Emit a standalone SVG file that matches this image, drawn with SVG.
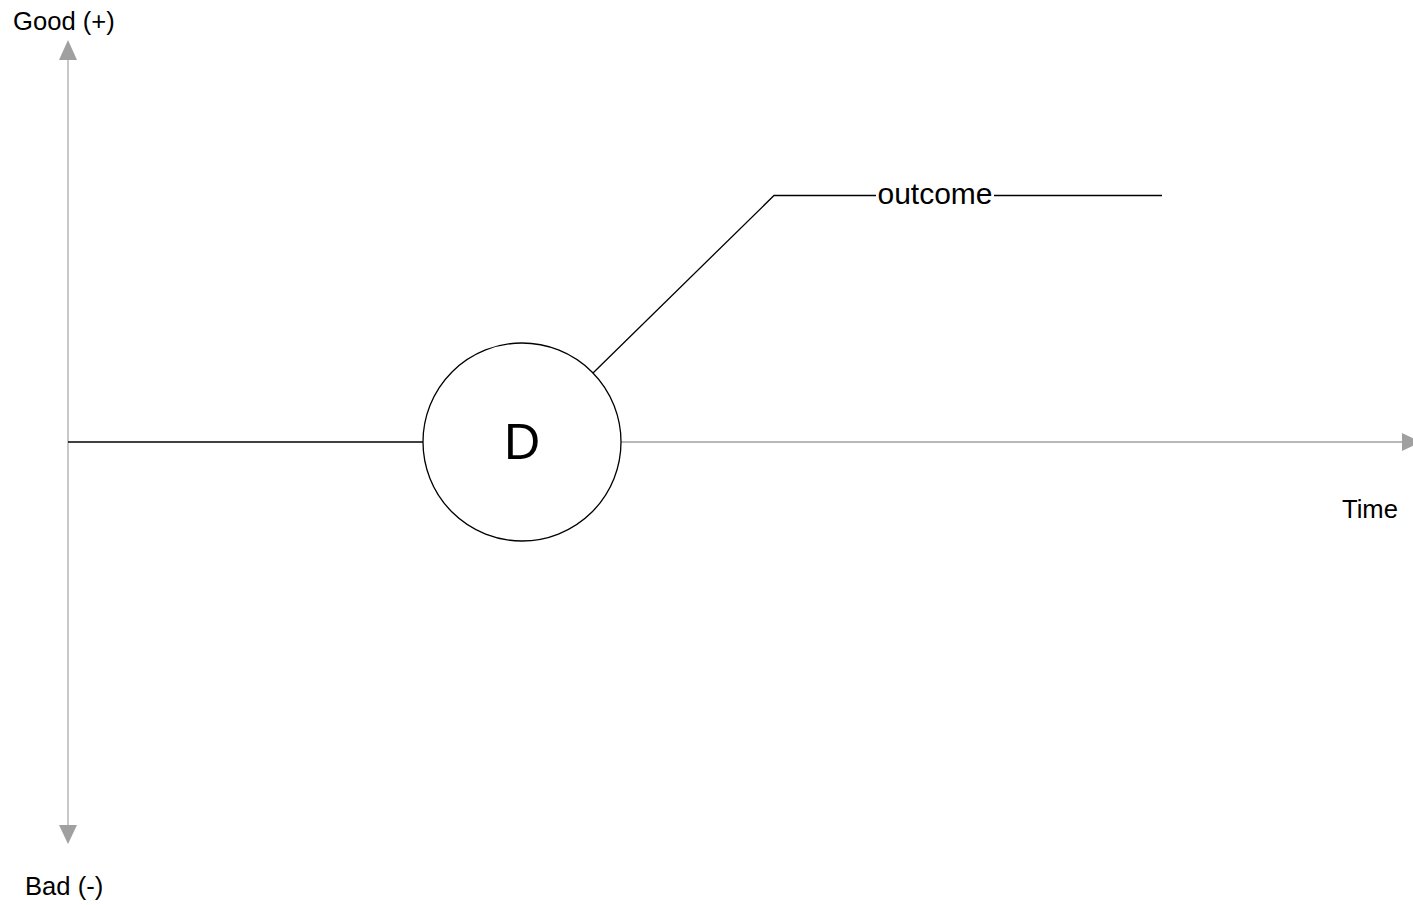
<svg xmlns="http://www.w3.org/2000/svg" width="1413" height="905" viewBox="0 0 1413 905">
  <style>
    .label { font-family: "Liberation Sans", Arial, sans-serif; fill: #000; }
    .axis { stroke: #c8c8c8; stroke-width: 2; fill: none; }
    .axis-h { stroke: #a0a0a0; stroke-width: 1.5; fill: none; }
    .edge { stroke: #000; stroke-width: 1.3; fill: none; }
    .head { fill: #a0a0a0; stroke: none; }
  </style>
  <rect width="1413" height="905" fill="#fff"/>

  <!-- value axis (good / bad) -->
  <g id="value-axis">
    <line class="axis" x1="68" y1="58" x2="68" y2="826"/>
    <polygon class="head" points="68,40 59,60 77,60"/>
    <polygon class="head" points="68,844 59,825 77,825"/>
    <text class="label" x="13" y="30" font-size="25.6">Good (+)</text>
    <text class="label" x="25" y="895" font-size="25.6">Bad (-)</text>
  </g>

  <!-- time axis -->
  <g id="time-axis">
    <line class="axis-h" x1="621" y1="442" x2="1403" y2="442"/>
    <polygon class="head" points="1421,442 1402,433 1402,451"/>
    <text class="label" x="1342" y="518" font-size="25.6">Time</text>
  </g>

  <!-- connectors -->
  <g id="connectors">
    <line class="edge" x1="68" y1="442" x2="423" y2="442"/>
    <polyline class="edge" points="593,373 774,195.5 876,195.5"/>
    <line class="edge" x1="994" y1="195.5" x2="1162" y2="195.5"/>
  </g>

  <!-- decision node -->
  <g id="node-d">
    <circle cx="522" cy="442" r="99" fill="#fff" stroke="#000" stroke-width="1.3"/>
    <text class="label" x="522" y="459" font-size="50" text-anchor="middle">D</text>
  </g>

  <!-- outcome label -->
  <g id="node-outcome">
    <text class="label" x="935" y="204" font-size="30" text-anchor="middle">outcome</text>
  </g>
</svg>
